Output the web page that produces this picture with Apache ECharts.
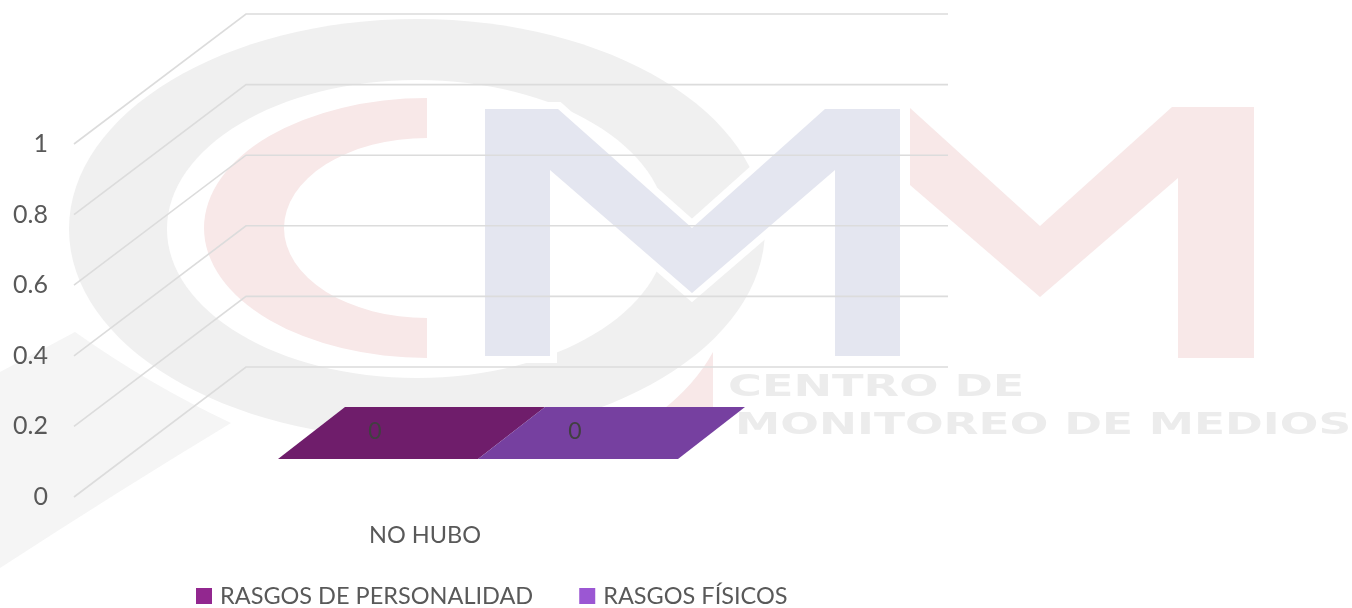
<!DOCTYPE html>
<html>
<head>
<meta charset="utf-8">
<style>html,body{margin:0;padding:0;background:#fff}#c{width:1352px;height:608px}</style>
<script src="https://cdn.jsdelivr.net/npm/echarts@6/dist/echarts.min.js"></script>
</head>
<body>
<div id="c"></div>
<script>
const categories = ['NO HUBO'];
const yTicks = [0, 0.2, 0.4, 0.6, 0.8, 1];
const seriesNames = ['RASGOS DE PERSONALIDAD', 'RASGOS FÍSICOS'];
const rasgosPersonalidad = [0];
const rasgosFisicos = [0];

const FONT = 'Lato';
const TEXT = '#595959';
const WALL_DX = 172, WALL_DY = -130;
const BAR_W = 200, BAR_SHIFT_X = 53, BAR_SHIFT_Y = -38, BAR_DX = 67, BAR_DY = -52;
const LEGEND_COLORS = ['#92278f', '#9b57d3'];
const FACE_COLORS = ['#6f1d6b', '#7640a0'];

const GREY = '#f0f0f0', RED = '#f8e8e8', INDIGO = '#e4e6f0', WM_TEXT = '#ececec';
const M_POINTS = [[485,109],[558,109],[692,228],[825,109],[900,109],[900,356],[835,356],[835,170],[692,293],[550,170],[550,356],[485,356]];

const watermark = [
  { type: 'path', shape: { pathData: 'M0 372 L75 332 Q150 385 231 423 Q120 490 0 568 Z' }, style: { fill: '#f5f5f5' } },
  { type: 'ellipse', shape: { cx: 417, cy: 228, rx: 358, ry: 220 }, style: { fill: '#fff' } },
  { type: 'ellipse', shape: { cx: 417, cy: 229, rx: 348, ry: 210 }, style: { fill: GREY } },
  { type: 'ellipse', shape: { cx: 417, cy: 229, rx: 250, ry: 149 }, style: { fill: '#fff' } },
  { type: 'path', shape: { pathData: 'M427 98 A223 130 0 0 0 427 358 L427 318 A143 90 0 0 1 427 138 Z' }, style: { fill: RED } },
  { type: 'path', shape: { pathData: 'M713 352 Q695 385 660 412 L713 412 Z' }, style: { fill: RED } },
  { type: 'polygon', shape: { points: M_POINTS }, style: { fill: '#fff', stroke: '#fff', lineWidth: 14, lineJoin: 'miter' } },
  { type: 'polygon', shape: { points: M_POINTS }, style: { fill: INDIGO } },
  { type: 'polygon', shape: { points: [[910,108],[1040,226],[1172,107],[1254,107],[1254,358],[1178,358],[1178,178],[1040,297],[910,185]] }, style: { fill: RED } },
  { type: 'text', x: 728, y: 388, scaleX: 1.49, style: { text: 'CENTRO DE', fill: WM_TEXT, font: 'bold 31px "DejaVu Sans"', textAlign: 'left', textVerticalAlign: 'middle' } },
  { type: 'text', x: 735, y: 426, scaleX: 1.467, style: { text: 'MONITOREO DE MEDIOS', fill: WM_TEXT, font: 'bold 31px "DejaVu Sans"', textAlign: 'left', textVerticalAlign: 'middle' } }
];

function faceSeries(idx, values) {
  return {
    name: seriesNames[idx],
    type: 'custom',
    z: 5,
    color: LEGEND_COLORS[idx],
    data: values.map((v, i) => [i, v]),
    renderItem(params, api) {
      const p = api.coord([api.value(0), api.value(1)]);
      const x0 = p[0] - BAR_W + BAR_SHIFT_X + idx * BAR_W;
      const y0 = p[1] + BAR_SHIFT_Y;
      return {
        type: 'group',
        children: [
          { type: 'polygon',
            shape: { points: [[x0, y0], [x0 + BAR_W, y0], [x0 + BAR_W + BAR_DX, y0 + BAR_DY], [x0 + BAR_DX, y0 + BAR_DY]] },
            style: { fill: FACE_COLORS[idx] } },
          { type: 'text', x: x0 + 97, y: y0 - 27,
            style: { text: String(api.value(1)), fill: '#404040', font: '23px ' + FONT, textAlign: 'center', textVerticalAlign: 'middle' } }
        ]
      };
    }
  };
}

const chart = echarts.init(document.getElementById('c'), null, { renderer: 'canvas' });
chart.setOption({
  animation: false,
  backgroundColor: '#fff',
  grid: { left: 74, top: 144, width: 702, height: 353 },
  xAxis: {
    type: 'category', data: categories,
    axisLine: { show: false }, axisTick: { show: false }, splitLine: { show: false },
    axisLabel: { color: TEXT, fontFamily: FONT, fontSize: 23.5, margin: 26 }
  },
  yAxis: {
    type: 'value', min: 0, max: 1, interval: 0.2,
    axisLine: { show: false }, axisTick: { show: false }, splitLine: { show: false },
    axisLabel: { color: TEXT, fontFamily: FONT, fontSize: 25, margin: 26, padding: [5, 0, 0, 0] }
  },
  legend: {
    left: 196, top: 584, padding: 0, itemWidth: 16, itemHeight: 16, itemGap: 46, icon: 'rect',
    data: seriesNames,
    textStyle: { color: TEXT, fontFamily: FONT, fontSize: 23.5, padding: [0, 0, 0, 3] }
  },
  series: [
    {
      type: 'custom', silent: true, z: 0, clip: false,
      data: [[0, 0]],
      renderItem() { return { type: 'group', children: watermark }; }
    },
    {
      type: 'custom', silent: true, z: 3, clip: false,
      data: yTicks.map(v => [0, v]),
      renderItem(params, api) {
        const y = api.coord([0, api.value(1)])[1];
        const cs = params.coordSys;
        return {
          type: 'polyline',
          shape: { points: [[cs.x, y], [cs.x + WALL_DX, y + WALL_DY], [cs.x + cs.width + WALL_DX, y + WALL_DY]] },
          style: { fill: 'none', stroke: '#dcdcdc', lineWidth: 1.6 }
        };
      }
    },
    faceSeries(0, rasgosPersonalidad),
    faceSeries(1, rasgosFisicos)
  ]
});
</script>
</body>
</html>
